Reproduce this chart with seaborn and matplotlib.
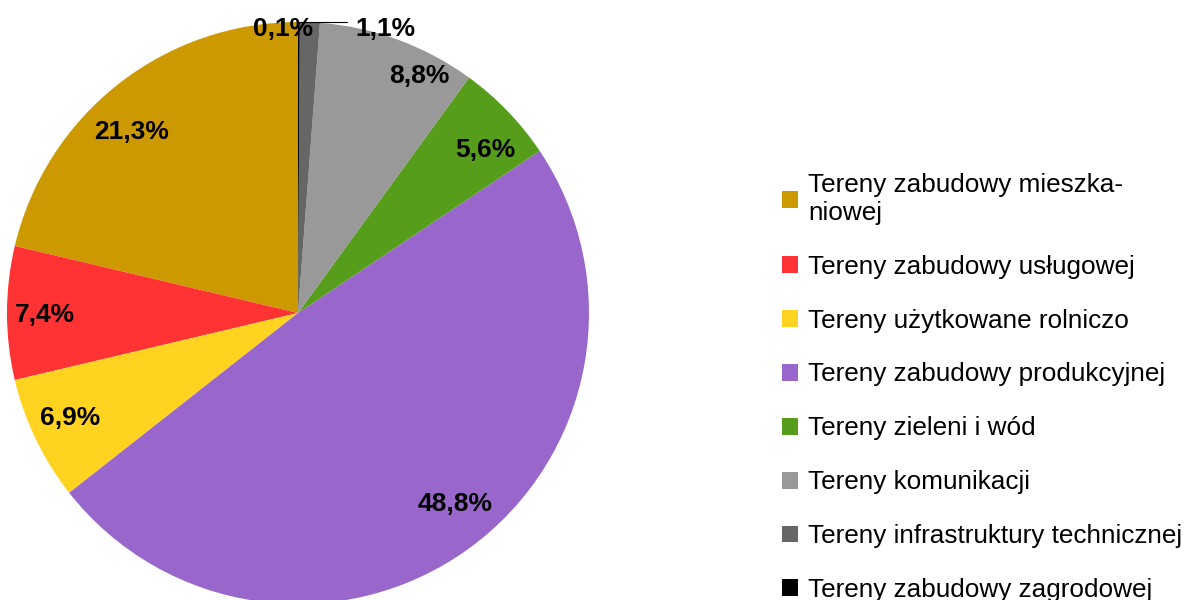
import numpy as np
import matplotlib
matplotlib.use("Agg")
import matplotlib.pyplot as plt
import matplotlib.patches as mpatches
import seaborn as sns

# Data
categories = [
    "Tereny zabudowy mieszka-\nniowej",
    "Tereny zabudowy usługowej",
    "Tereny użytkowane rolniczo",
    "Tereny zabudowy produkcyjnej",
    "Tereny zieleni i wód",
    "Tereny komunikacji",
    "Tereny infrastruktury technicznej",
    "Tereny zabudowy zagrodowej",
]
shares = [21.3, 7.4, 6.9, 48.8, 5.6, 8.8, 1.1, 0.1]
colors = ["#cc9900", "#ff3333", "#ffd320", "#9966cc", "#579d1c", "#999999", "#666666", "#000000"]

sns.set_style("white")
plt.rcParams["font.family"] = ["Liberation Sans", "DejaVu Sans"]
plt.rcParams["text.color"] = "black"

fig = plt.figure(figsize=(11.91, 6), dpi=100)
cx, cy, r = 298, 313, 291
ax = fig.add_axes([(cx - r) / 1191, (600 - cy - r) / 600, 2 * r / 1191, 2 * r / 600])

wedges, texts = ax.pie(
    shares, colors=colors, startangle=90, counterclock=True,
    wedgeprops=dict(linewidth=0),
)
ax.set_xlim(-1, 1)
ax.set_ylim(-1, 1)
ax.set_aspect("equal")
ax.axis("off")
for w in wedges:
    w.set_clip_on(False)

# percentage labels (small angular/radial nudges to mimic the original placement)
ang_shift = [3.9, 0, -1.4, 3.6, -2.5, -6.9, 0, 0]
dist = [0.85, 0.87, 0.86, 0.845, 0.857, 0.92, 0, 0]
cum = np.cumsum([0] + shares[:-1])
fs = 19
for i, (v, c0) in enumerate(zip(shares, cum)):
    lab = f"{v:.1f}".replace(".", ",") + "%"
    ang = np.deg2rad(90 + (c0 + v / 2) * 3.6 + ang_shift[i])
    if i == 7:
        ax.text(-0.05, 0.975, lab, ha="center", va="center", fontsize=fs, fontweight="bold")
        continue
    if i == 6:
        y0 = np.sin(ang)
        ax.plot([0.0, 0.17], [y0, y0], color="black", lw=0.8, clip_on=False)
        ax.text(0.3, 0.975, lab, ha="center", va="center", fontsize=fs, fontweight="bold")
        continue
    ax.text(dist[i] * np.cos(ang), dist[i] * np.sin(ang) - 0.006, lab,
            ha="center", va="center", fontsize=fs, fontweight="bold")

handles = [mpatches.Patch(facecolor=c, edgecolor="none") for c in colors]
fig.legend(
    handles, categories, loc="upper left", bbox_to_anchor=(782 / 1191, 1 - 173 / 600),
    frameon=False, fontsize=18.8, handlelength=0.62, handleheight=0.62,
    handletextpad=0.38, labelspacing=1.145, borderpad=0, borderaxespad=0,
)

fig.savefig("out.png", dpi=100)
